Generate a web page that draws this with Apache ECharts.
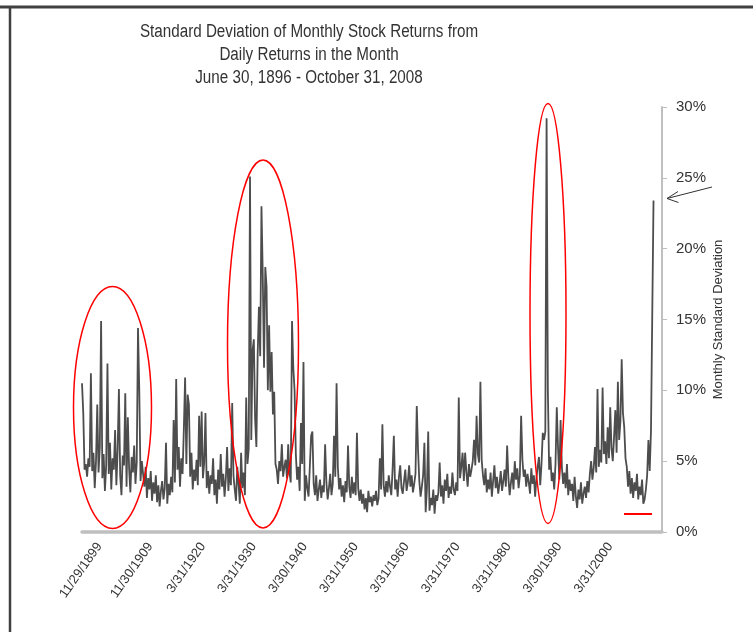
<!DOCTYPE html>
<html>
<head>
<meta charset="utf-8">
<title>Standard Deviation of Monthly Stock Returns</title>
<script src="https://cdn.jsdelivr.net/npm/echarts@6.0.0/dist/echarts.min.js"></script>
<style>
  html, body { margin: 0; padding: 0; background: #fff; }
  #chart { width: 753px; height: 632px; }
</style>
</head>
<body>
<div id="chart"></div>
<script>
// Monthly std. deviation (%), one sample every 3 months from June 1896
const stepMonths = 3;
const stdDev = [
  10.5, 8.4, 4.4, 4.8, 3.9, 5.2, 4.6, 11.2, 4.3, 5.6,
  3.1, 5.0, 9.0, 4.2, 6.0, 14.9, 3.8, 5.5, 2.9, 4.7,
  11.9, 4.1, 6.3, 3.0, 5.2, 4.4, 7.2, 3.3, 5.8, 10.1,
  4.0, 2.6, 5.4, 4.7, 9.8, 3.2, 8.1, 4.5, 2.8, 5.3,
  4.2, 6.1, 3.4, 4.9, 14.4, 10.0, 3.6, 5.0, 4.1, 3.2,
  4.6, 2.4, 3.8, 3.0, 4.3, 2.2, 3.5, 2.7, 4.0, 2.1,
  3.3, 1.8, 2.9, 3.6, 2.3, 3.1, 6.3, 2.0, 3.4, 2.6,
  3.9, 2.8, 7.9, 3.5, 10.8, 4.4, 6.0, 3.2, 5.2, 4.1,
  7.2, 10.9, 4.8, 9.7, 9.0, 3.9, 5.6, 3.0, 4.4, 3.6,
  5.1, 3.3, 8.2, 4.6, 8.5, 3.8, 4.9, 8.4, 3.1, 4.3,
  2.7, 4.0, 3.4, 5.2, 2.6, 3.7, 2.0, 4.4, 3.0, 5.5,
  3.2, 4.1, 2.5, 3.8, 6.0, 2.9, 4.5, 3.3, 9.1, 4.0,
  3.0, 2.2, 4.6, 3.4, 2.0, 5.6, 3.1, 4.2, 2.6, 9.5,
  4.8, 5.9, 25.1, 6.5, 12.8, 13.6, 8.0, 6.0, 12.5, 15.9,
  12.4, 23.0, 18.2, 11.6, 18.7, 17.3, 10.0, 14.6, 9.9, 12.7,
  8.3, 9.9, 4.8, 4.4, 3.4, 5.0, 4.3, 6.2, 3.9, 4.6,
  5.1, 3.8, 6.2, 4.2, 3.5, 14.9, 11.6, 10.0, 5.5, 3.7,
  4.6, 2.9, 7.7, 4.8, 12.0, 2.2, 4.0, 3.1, 2.5, 2.5,
  6.8, 7.1, 3.4, 2.6, 4.0, 2.2, 3.0, 3.7, 2.4, 3.3,
  2.8, 6.2, 3.5, 2.3, 3.1, 4.1, 2.6, 3.4, 6.8, 3.9,
  10.5, 4.6, 3.0, 3.8, 2.5, 3.3, 2.1, 3.6, 2.8, 6.1,
  3.2, 2.4, 3.9, 2.7, 3.5, 2.6, 7.0, 3.1, 2.2, 3.0,
  2.0, 2.7, 1.6, 2.4, 1.4, 2.9, 2.1, 2.5, 1.8, 2.6,
  2.2, 2.9, 1.9, 2.4, 5.2, 3.0, 7.6, 3.3, 2.5, 3.6,
  2.8, 4.0, 3.2, 2.6, 4.4, 6.8, 3.0, 3.7, 2.5, 3.9,
  4.7, 3.1, 2.7, 3.6, 4.4, 2.9, 3.5, 4.7, 3.2, 4.0,
  2.8, 3.4, 4.1, 8.9, 5.8, 3.6, 2.5, 3.2, 4.0, 6.3,
  1.4, 3.1, 7.1, 1.5, 2.4, 1.9, 3.0, 1.3, 2.6, 2.2,
  2.8, 4.9, 2.5, 3.3, 2.0, 3.7, 2.9, 4.1, 2.4, 3.2,
  2.7, 4.2, 3.0, 2.6, 3.5, 2.9, 9.5, 3.8, 4.6, 5.6,
  3.6, 5.6, 4.2, 3.2, 4.8, 3.9, 4.4, 5.0, 6.5, 4.7,
  8.2, 5.5, 4.9, 10.6, 5.1, 4.0, 3.3, 4.5, 2.8, 3.7,
  3.0, 4.2, 2.5, 3.6, 4.7, 3.1, 3.9, 2.7, 3.4, 4.3,
  2.9, 3.6, 4.4, 3.2, 6.1, 3.8, 2.6, 3.5, 4.2, 3.0,
  5.0, 3.7, 4.5, 3.1, 4.0, 8.2, 5.1, 3.9, 4.4, 3.2,
  4.1, 3.5, 2.7, 4.5, 3.4, 4.0, 2.5, 3.8, 4.6, 5.3,
  3.3, 4.8, 7.0, 6.5, 7.1, 29.2, 10.0, 4.4, 5.3, 3.6,
  4.2, 3.0, 4.8, 8.8, 5.9, 3.7, 7.9, 4.6, 3.4, 4.2,
  3.1, 4.8, 2.6, 3.7, 2.9, 3.4, 2.2, 3.9, 2.5, 1.7,
  3.0, 2.3, 3.5, 2.0, 2.7, 3.2, 2.4, 3.6, 2.8, 4.1,
  5.0, 3.7, 4.5, 6.0, 4.2, 10.1, 4.6, 5.8, 4.9, 10.2,
  5.5, 6.4, 4.8, 7.4, 5.2, 8.8, 5.9, 5.0, 6.7, 8.6,
  5.6, 10.6, 6.5, 7.8, 12.2, 8.4, 7.4, 5.2, 4.6, 3.2,
  4.3, 2.7, 3.8, 2.4, 3.5, 2.9, 4.1, 2.3, 3.2, 2.6,
  3.7, 2.0, 2.3, 3.0, 4.0, 6.5, 4.3, 7.1, 7.0, 23.4
];

// dates shown under the axis
const tickLabels = [
  '11/29/1899', '11/30/1909', '3/31/1920', '3/31/1930', '3/30/1940', '3/31/1950',
  '3/31/1960', '3/31/1970', '3/31/1980', '3/30/1990', '3/31/2000'
];

const titleText = 'Standard Deviation of Monthly Stock Returns from\nDaily Returns in the Month\nJune 30, 1896 - October 31, 2008';

// months counted from June 1896
function monthIndex(label) {
  const parts = label.split('/');
  return (parseInt(parts[2], 10) - 1896) * 12 + (parseInt(parts[0], 10) - 6);
}
const tickMonths = tickLabels.map(monthIndex);
const seriesData = stdDev.map((v, i) => [i * stepMonths, v]);

const chart = echarts.init(document.getElementById('chart'));

const option = {
  animation: false,
  backgroundColor: '#fff',
  textStyle: { fontFamily: 'Liberation Sans, Arial, sans-serif' },
  grid: { left: 82, right: 91, top: 107, bottom: 100 },
  xAxis: {
    type: 'value',
    min: 0,
    max: 1367,
    axisLine: { lineStyle: { color: '#bfbfbf', width: 3.5 } },
    axisTick: { show: false },
    splitLine: { show: false },
    axisLabel: {
      customValues: tickMonths,
      rotate: 55,
      margin: 12,
      fontSize: 13,
      color: '#333',
      formatter: (v) => {
        const k = tickMonths.indexOf(v);
        return k >= 0 ? tickLabels[k] : '';
      }
    }
  },
  yAxis: {
    type: 'value',
    position: 'right',
    min: 0,
    max: 30,
    interval: 5,
    name: 'Monthly Standard Deviation',
    nameLocation: 'middle',
    nameRotate: 90,
    nameGap: 50,
    nameMoveOverlap: false,
    nameTextStyle: { fontSize: 13, color: '#333' },
    axisLine: { show: true, onZero: false, lineStyle: { color: '#bfbfbf', width: 2 } },
    axisTick: { show: true, inside: false, length: 5, lineStyle: { color: '#bfbfbf' } },
    axisLabel: { formatter: '{value}%', fontSize: 15, color: '#333', margin: 14 },
    splitLine: { show: false }
  },
  series: [
    {
      type: 'line',
      data: seriesData,
      showSymbol: false,
      lineStyle: { color: '#4d4d4d', width: 1.8 },
      z: 3
    }
  ],
  graphic: [
    // frame
    { type: 'line', shape: { x1: 0, y1: 7, x2: 753, y2: 7 }, style: { stroke: '#404040', lineWidth: 3 } },
    { type: 'line', shape: { x1: 10, y1: 7, x2: 10, y2: 632 }, style: { stroke: '#404040', lineWidth: 2.5 } },
    // title, squeezed to the narrow face of the original
    {
      type: 'text', x: 309, y: 21, scaleX: 0.845,
      style: {
        text: titleText,
        fill: '#333',
        font: '18px "Liberation Sans", Arial, sans-serif',
        align: 'center',
        verticalAlign: 'top',
        lineHeight: 23
      }
    },
    // red annotations
    { type: 'ellipse', shape: { cx: 112.5, cy: 407.5, rx: 39, ry: 121 }, style: { fill: 'none', stroke: '#ff0000', lineWidth: 1.5 }, z: 10 },
    { type: 'ellipse', shape: { cx: 263, cy: 344, rx: 35.5, ry: 184 }, style: { fill: 'none', stroke: '#ff0000', lineWidth: 1.5 }, z: 10 },
    { type: 'ellipse', shape: { cx: 548, cy: 313.5, rx: 18, ry: 210 }, style: { fill: 'none', stroke: '#ff0000', lineWidth: 1.5 }, z: 10 },
    { type: 'line', shape: { x1: 624, y1: 514, x2: 652, y2: 514 }, style: { stroke: '#ff0000', lineWidth: 2 }, z: 10 },
    // arrow to the last value
    { type: 'line', shape: { x1: 712, y1: 187, x2: 667, y2: 198.5 }, style: { stroke: '#333', lineWidth: 1 }, z: 10 },
    { type: 'polyline', shape: { points: [[678, 191.5], [667, 198.5], [678.5, 202.5]] }, style: { fill: 'none', stroke: '#333', lineWidth: 1 }, z: 10 }
  ]
};

chart.setOption(option);
</script>
</body>
</html>
